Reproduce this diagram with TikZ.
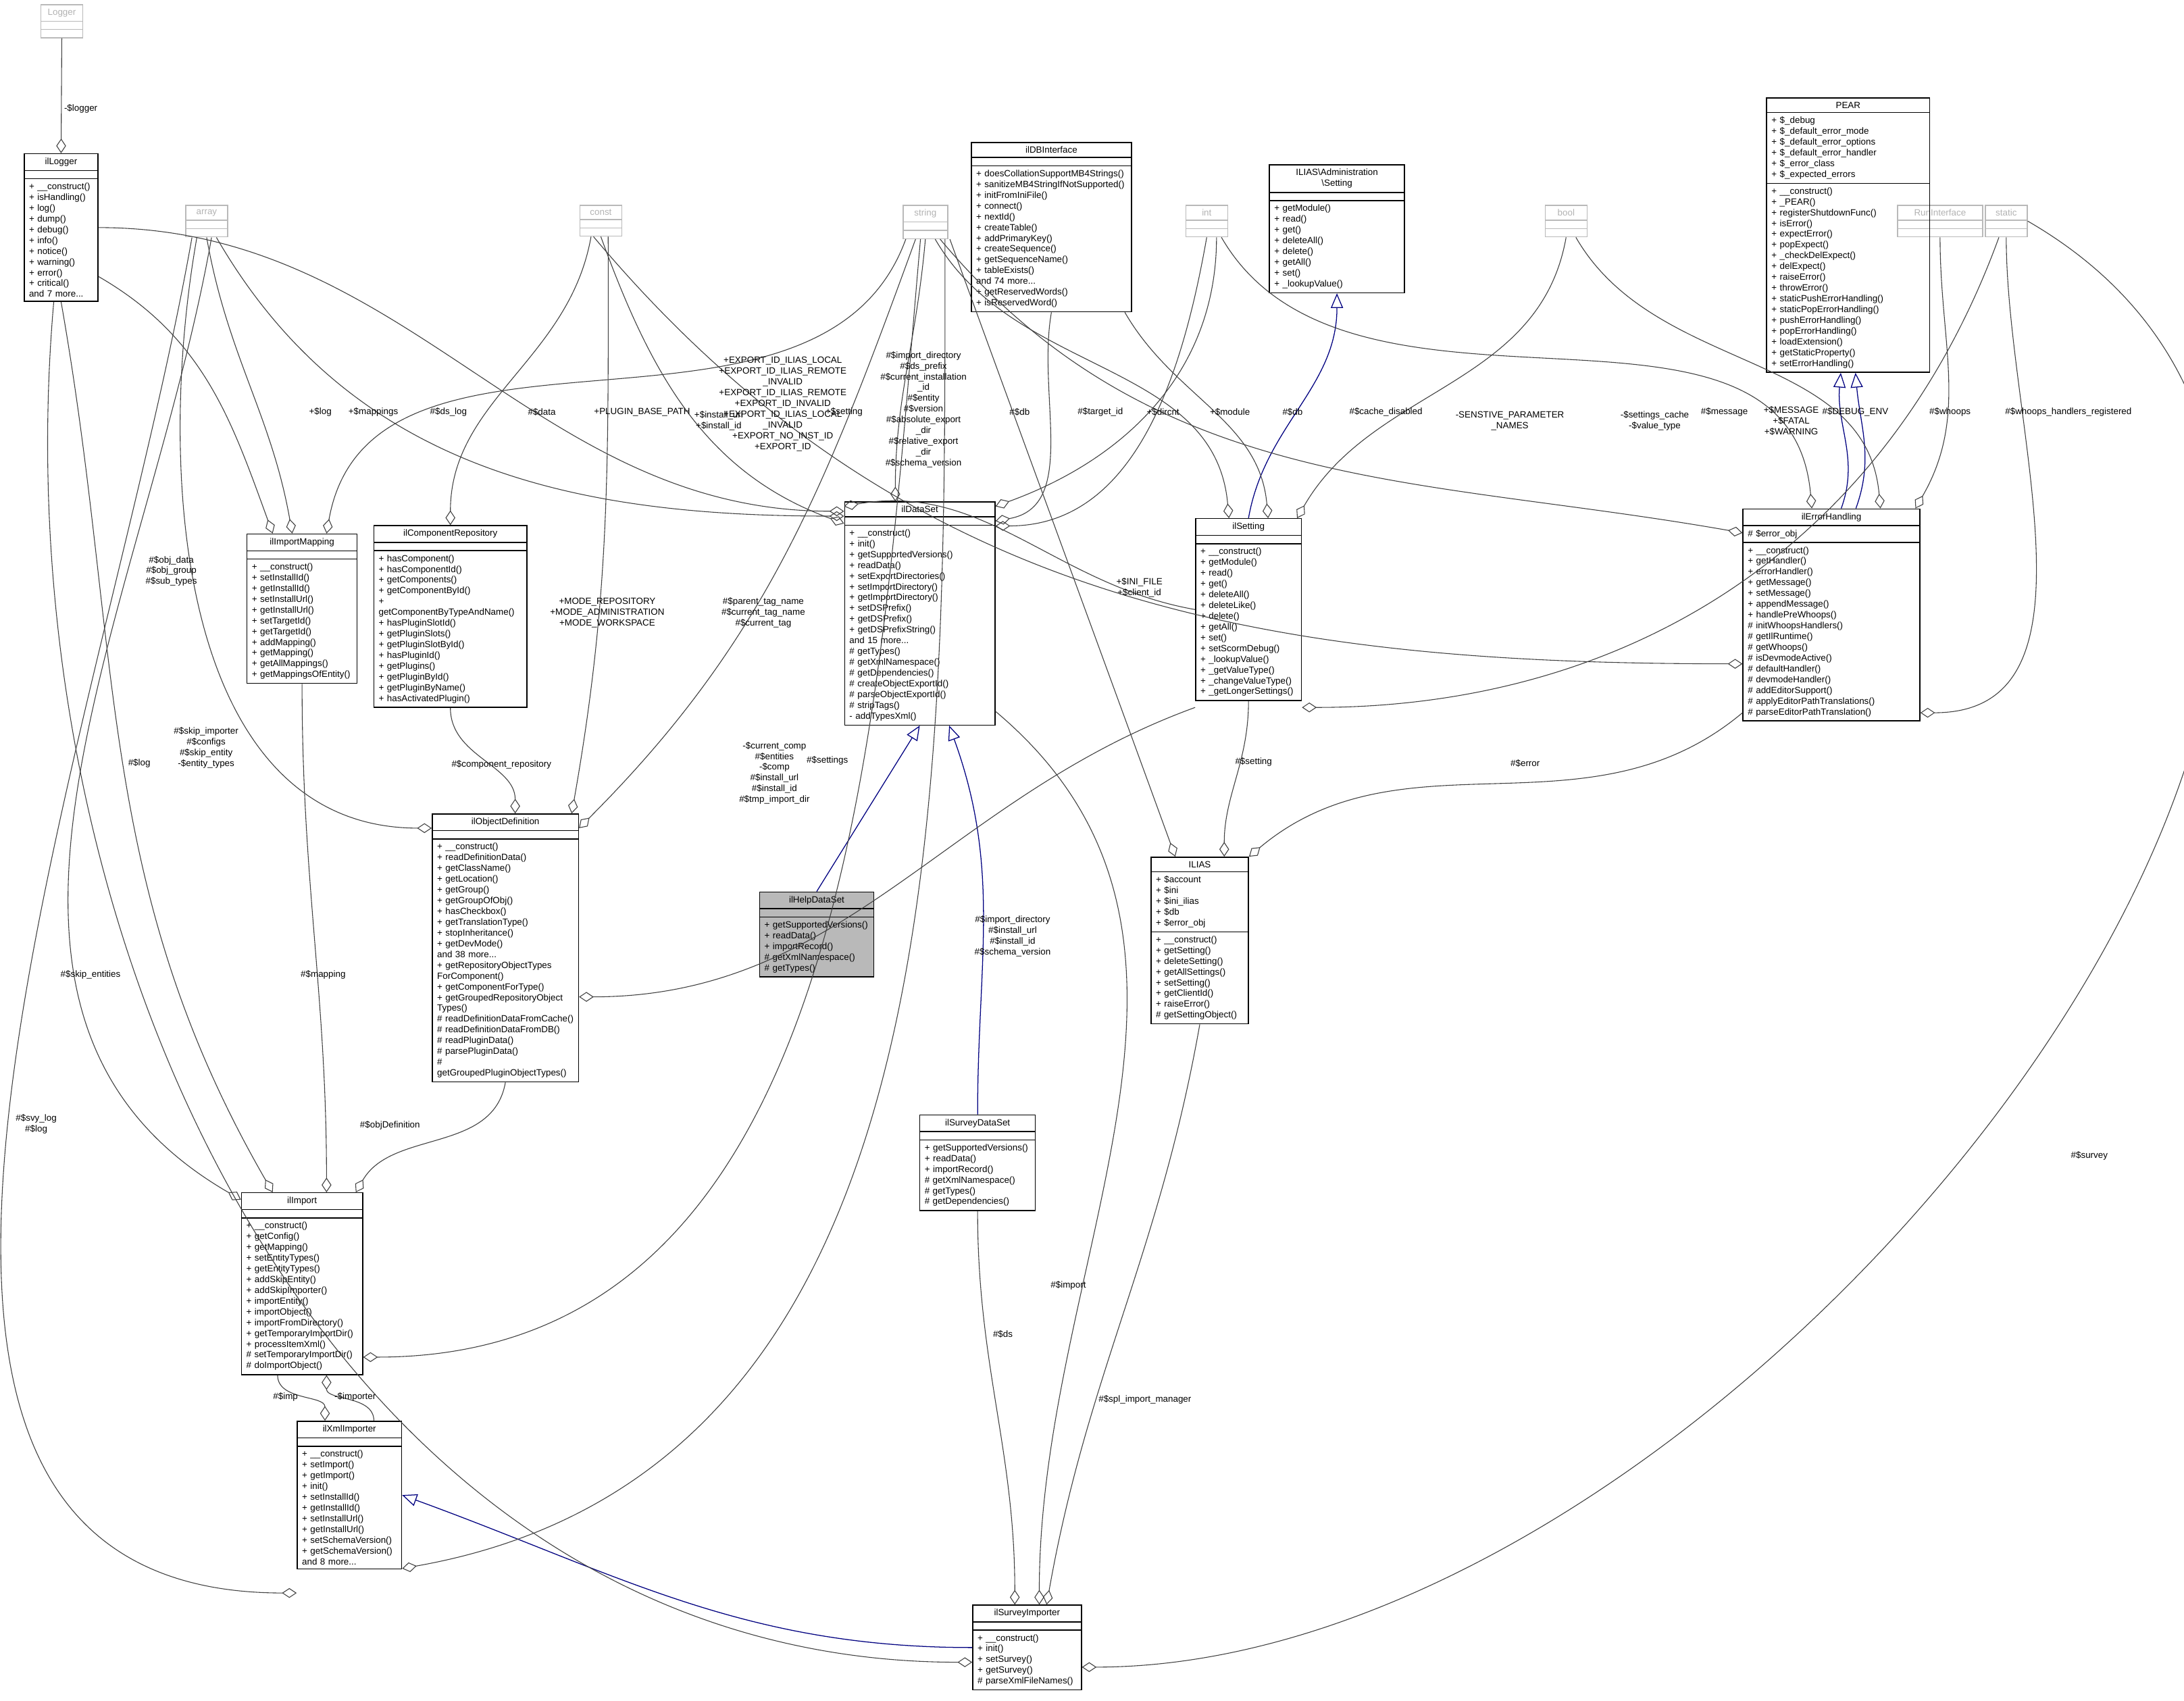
\documentclass[tikz,border=0pt]{standalone}
\usepackage{fontspec}
\setmainfont{Liberation Sans}
\usetikzlibrary{shapes.multipart,arrows.meta}
\hyphenpenalty=10000
\exhyphenpenalty=10000
\tikzset{
  cls/.style={rectangle split,rectangle split parts=3,draw,line width=0.4pt,anchor=north west,
    font=\fontsize{3.7}{4.4}\selectfont,align=left,inner xsep=2pt,inner ysep=1.5pt,
    rectangle split empty part height=5pt},
  prim/.style={cls,draw=gray!55,text=gray!60,align=center},
  agg/.style={draw=black!75,line width=0.3pt,-{Diamond[open,length=6pt,width=4pt]}},
  inh/.style={draw=blue!50!black,line width=0.35pt,-{Triangle[open,length=6pt,width=5pt]}},
  lbl/.style={font=\fontsize{3.7}{4.4}\selectfont,align=center,inner sep=0.5pt}
}
\begin{document}
\hyphenpenalty=10000
\exhyphenpenalty=10000
\begin{tikzpicture}[x=0.02cm,y=-0.02cm]
\useasboundingbox (0,0) rectangle (1568,1221);

%primitive types
\node[prim,text width=0.46cm] (Logger) at (29,3) {Logger\nodepart{two}\nodepart{three}};
\node[prim,text width=0.46cm] (array) at (133,147) {array\nodepart{two}\nodepart{three}};
\node[prim,text width=0.46cm] (const) at (416,147) {const\nodepart{two}\nodepart{three}};
\node[prim,text width=0.5cm] (string) at (648,147) {string\nodepart{two}\nodepart{three}};
\node[prim,text width=0.46cm] (int) at (851,147) {int\nodepart{two}\nodepart{three}};
\node[prim,text width=0.46cm] (bool) at (1109,147) {bool\nodepart{two}\nodepart{three}};
\node[prim,text width=1.08cm] (RunInterface) at (1362,147) {RunInterface\nodepart{two}\nodepart{three}};
\node[prim,text width=0.46cm] (static) at (1425,147) {static\nodepart{two}\nodepart{three}};

%classes
\node[cls,text width=0.92cm] (ilLogger) at (17,110) {{\centering ilLogger\par}\nodepart{two}\nodepart{three}+ \_\_construct()\\+ isHandling()\\+ log()\\+ dump()\\+ debug()\\+ info()\\+ notice()\\+ warning()\\+ error()\\+ critical()\\and 7 more...};
\node[cls,text width=2.16cm] (ilDBInterface) at (697,102) {{\centering ilDBInterface\par}\nodepart{two}\nodepart{three}+ doesCollationSupportMB4Strings()\\+ sanitizeMB4StringIfNotSupported()\\+ initFromIniFile()\\+ connect()\\+ nextId()\\+ createTable()\\+ addPrimaryKey()\\+ createSequence()\\+ getSequenceName()\\+ tableExists()\\and 74 more...\\+ getReservedWords()\\+ isReservedWord()};
\node[cls,text width=1.8cm] (AdminSetting) at (911,118) {{\centering ILIAS\textbackslash Administration\\\textbackslash Setting\par}\nodepart{two}\nodepart{three}+ getModule()\\+ read()\\+ get()\\+ deleteAll()\\+ delete()\\+ getAll()\\+ set()\\+ \_lookupValue()};
\node[cls,text width=2.2cm] (PEAR) at (1268,70) {{\centering PEAR\par}\nodepart{two}+ \$\_debug\\+ \$\_default\_error\_mode\\+ \$\_default\_error\_options\\+ \$\_default\_error\_handler\\+ \$\_error\_class\\+ \$\_expected\_errors\nodepart{three}+ \_\_construct()\\+ \_PEAR()\\+ registerShutdownFunc()\\+ isError()\\+ expectError()\\+ popExpect()\\+ \_checkDelExpect()\\+ delExpect()\\+ raiseError()\\+ throwError()\\+ staticPushErrorHandling()\\+ staticPopErrorHandling()\\+ pushErrorHandling()\\+ popErrorHandling()\\+ loadExtension()\\+ getStaticProperty()\\+ setErrorHandling()};
\node[cls,text width=1.44cm] (ilImportMapping) at (177,383) {{\centering ilImportMapping\par}\nodepart{two}\nodepart{three}+ \_\_construct()\\+ setInstallId()\\+ getInstallId()\\+ setInstallUrl()\\+ getInstallUrl()\\+ setTargetId()\\+ getTargetId()\\+ addMapping()\\+ getMapping()\\+ getAllMappings()\\+ getMappingsOfEntity()};
\node[cls,text width=2.06cm] (ilComponentRepository) at (268,377) {{\centering ilComponentRepository\par}\nodepart{two}\nodepart{three}+ hasComponent()\\+ hasComponentId()\\+ getComponents()\\+ getComponentById()\\+ getComponentByTypeAndName()\\+ hasPluginSlotId()\\+ getPluginSlots()\\+ getPluginSlotById()\\+ hasPluginId()\\+ getPlugins()\\+ getPluginById()\\+ getPluginByName()\\+ hasActivatedPlugin()};
\node[cls,text width=2.02cm] (ilDataSet) at (606,360) {{\centering ilDataSet\par}\nodepart{two}\nodepart{three}+ \_\_construct()\\+ init()\\+ getSupportedVersions()\\+ readData()\\+ setExportDirectories()\\+ setImportDirectory()\\+ getImportDirectory()\\+ setDSPrefix()\\+ getDSPrefix()\\+ getDSPrefixString()\\and 15 more...\\\# getTypes()\\\# getXmlNamespace()\\\# getDependencies()\\\# createObjectExportId()\\\# parseObjectExportId()\\\# stripTags()\\- addTypesXml()};
\node[cls,text width=1.38cm] (ilSetting) at (858,372) {{\centering ilSetting\par}\nodepart{two}\nodepart{three}+ \_\_construct()\\+ getModule()\\+ read()\\+ get()\\+ deleteAll()\\+ deleteLike()\\+ delete()\\+ getAll()\\+ set()\\+ setScormDebug()\\+ \_lookupValue()\\+ \_getValueType()\\+ \_changeValueType()\\+ \_getLongerSettings()};
\node[cls,text width=2.4cm] (ilErrorHandling) at (1251,365) {{\centering ilErrorHandling\par}\nodepart{two}\# \$error\_obj\nodepart{three}+ \_\_construct()\\+ getHandler()\\+ errorHandler()\\+ getMessage()\\+ setMessage()\\+ appendMessage()\\+ handlePreWhoops()\\\# initWhoopsHandlers()\\\# getIlRuntime()\\\# getWhoops()\\\# isDevmodeActive()\\\# defaultHandler()\\\# devmodeHandler()\\\# addEditorSupport()\\\# applyEditorPathTranslations()\\\# parseEditorPathTranslation()};
\node[cls,fill=gray!55,text width=1.5cm] (ilHelpDataSet) at (545,640) {{\centering ilHelpDataSet\par}\nodepart{two}\nodepart{three}+ getSupportedVersions()\\+ readData()\\+ importRecord()\\\# getXmlNamespace()\\\# getTypes()};
\node[cls,text width=1.96cm] (ilObjectDefinition) at (310,584) {{\centering ilObjectDefinition\par}\nodepart{two}\nodepart{three}+ \_\_construct()\\+ readDefinitionData()\\+ getClassName()\\+ getLocation()\\+ getGroup()\\+ getGroupOfObj()\\+ hasCheckbox()\\+ getTranslationType()\\+ stopInheritance()\\+ getDevMode()\\and 38 more...\\+ getRepositoryObjectTypes\\ForComponent()\\+ getComponentForType()\\+ getGroupedRepositoryObject\\Types()\\\# readDefinitionDataFromCache()\\\# readDefinitionDataFromDB()\\\# readPluginData()\\\# parsePluginData()\\\# getGroupedPluginObjectTypes()};
\node[cls,text width=1.26cm] (ILIAS) at (826,615) {{\centering ILIAS\par}\nodepart{two}+ \$account\\+ \$ini\\+ \$ini\_ilias\\+ \$db\\+ \$error\_obj\nodepart{three}+ \_\_construct()\\+ getSetting()\\+ deleteSetting()\\+ getAllSettings()\\+ setSetting()\\+ getClientId()\\+ raiseError()\\\# getSettingObject()};
\node[cls,text width=1.52cm] (ilSurveyDataSet) at (660,800) {{\centering ilSurveyDataSet\par}\nodepart{two}\nodepart{three}+ getSupportedVersions()\\+ readData()\\+ importRecord()\\\# getXmlNamespace()\\\# getTypes()\\\# getDependencies()};
\node[cls,text width=1.6cm] (ilImport) at (173,856) {{\centering ilImport\par}\nodepart{two}\nodepart{three}+ \_\_construct()\\+ getConfig()\\+ getMapping()\\+ setEntityTypes()\\+ getEntityTypes()\\+ addSkipEntity()\\+ addSkipImporter()\\+ importEntity()\\+ importObject()\\+ importFromDirectory()\\+ getTemporaryImportDir()\\+ processItemXml()\\\# setTemporaryImportDir()\\\# doImportObject()};
\node[cls,text width=1.36cm] (ilXmlImporter) at (213,1020) {{\centering ilXmlImporter\par}\nodepart{two}\nodepart{three}+ \_\_construct()\\+ setImport()\\+ getImport()\\+ init()\\+ setInstallId()\\+ getInstallId()\\+ setInstallUrl()\\+ getInstallUrl()\\+ setSchemaVersion()\\+ getSchemaVersion()\\and 8 more...};
\node[cls,text width=1.42cm] (ilSurveyImporter) at (698,1152) {{\centering ilSurveyImporter\par}\nodepart{two}\nodepart{three}+ \_\_construct()\\+ init()\\+ setSurvey()\\+ getSurvey()\\\# parseXmlFileNames()};

%inheritance
\draw[inh] (ilHelpDataSet.north) -- (ilDataSet.south);
\draw[inh] (ilSurveyDataSet.north) to[out=90,in=-70] ([xshift=12pt]ilDataSet.south);
\draw[inh] (ilSetting.north) to[out=80,in=-90] (AdminSetting.south);
\draw[inh] ([xshift=4pt]ilErrorHandling.north) to[out=70,in=-95] ([xshift=-3pt]PEAR.south);
\draw[inh] ([xshift=10pt]ilErrorHandling.north) to[out=70,in=-85] ([xshift=3pt]PEAR.south);
\draw[inh] (ilSurveyImporter.west) to[out=180,in=-20] (ilXmlImporter.east);

%aggregation
\draw[agg] (Logger.south) -- (ilLogger.north);
\draw[agg] ([yshift=-20pt]ilLogger.east) to[out=-30,in=110] ([xshift=-12pt]ilImportMapping.north);
\draw[agg] (array.south) to[out=-80,in=100] ([xshift=-4pt]ilImportMapping.north);
\draw[agg] ([xshift=-8pt]string.south) to[out=-110,in=80] ([xshift=10pt]ilImportMapping.north);
\draw[agg] (ilLogger.east) to[out=0,in=180] ([yshift=-4pt]ilDataSet.north west);
\draw[agg] ([xshift=4pt]array.south) to[out=-60,in=180] ([yshift=-6pt]ilDataSet.north west);
\draw[agg] (const.south) to[out=-70,in=160] ([yshift=-9pt]ilDataSet.north west);
\draw[agg] (string.south) to[out=-95,in=90] ([xshift=-10pt]ilDataSet.north);
\draw[agg] (ilSetting.west) to[out=170,in=10] ([yshift=-2pt]ilDataSet.north west);
\draw[agg] (ilDBInterface.south) to[out=-100,in=10] ([yshift=-8pt]ilDataSet.north east);
\draw[agg] (int.south) to[out=-100,in=0] ([yshift=-10pt]ilDataSet.north east);
\draw[agg] ([xshift=4pt]int.south) to[out=-90,in=20] ([yshift=-2pt]ilDataSet.north east);
\draw[agg] ([xshift=-4pt]const.south) to[out=-100,in=90] (ilComponentRepository.north);
\draw[agg] ([xshift=4pt]string.south) to[out=-60,in=95] ([xshift=-8pt]ilSetting.north);
\draw[agg] ([xshift=30pt]ilDBInterface.south) to[out=-60,in=95] ([xshift=8pt]ilSetting.north);
\draw[agg] (bool.south) to[out=-100,in=60] ([xshift=-2pt]ilSetting.north east);
\draw[agg] ([xshift=-3pt]static.south) to[out=-110,in=0] ([yshift=-40pt]ilSetting.east);
\draw[agg] ([xshift=-3pt]const.south) to[out=-50,in=180] ([yshift=-20pt]ilErrorHandling.west);
\draw[agg] ([xshift=6pt]string.south) to[out=-50,in=170] ([yshift=-10pt]ilErrorHandling.north west);
\draw[agg] ([xshift=6pt]int.south) to[out=-60,in=95] ([xshift=-8pt]ilErrorHandling.north);
\draw[agg] ([xshift=4pt]bool.south) to[out=-60,in=95] ([xshift=20pt]ilErrorHandling.north);
\draw[agg] (RunInterface.south) to[out=-90,in=60] ([xshift=-2pt]ilErrorHandling.north east);
\draw[agg] (static.south) to[out=-90,in=0] ([yshift=-40pt]ilErrorHandling.east);
\draw[agg] ([xshift=-4pt]array.south) to[out=-100,in=180] ([yshift=-6pt]ilObjectDefinition.north west);
\draw[agg] ([xshift=3pt]const.south) to[out=-90,in=80] ([xshift=-3pt]ilObjectDefinition.north east);
\draw[agg] (ilComponentRepository.south) to[out=-90,in=90] ([xshift=4pt]ilObjectDefinition.north);
\draw[agg] ([yshift=-40pt]ilSetting.west) to[out=200,in=0] ([yshift=-20pt]ilObjectDefinition.east);
\draw[agg] ([xshift=-4pt]string.south) to[out=-110,in=45] ([yshift=-6pt]ilObjectDefinition.north east);
\draw[agg] ([xshift=-2pt]string.south) to[out=-95,in=0] ([yshift=-30pt]ilImport.east);
\draw[agg] (ilImportMapping.south) to[out=-90,in=90] ([xshift=10pt]ilImport.north);
\draw[agg] (ilObjectDefinition.south) to[out=-100,in=60] ([xshift=-3pt]ilImport.north east);
\draw[agg] ([xshift=2pt]array.south) to[out=-100,in=150] ([yshift=-3pt]ilImport.north west);
\draw[agg] (ilLogger.south) to[out=-80,in=120] ([xshift=-12pt]ilImport.north);
\draw[agg] ([xshift=-10pt]ilImport.south) to[out=-90,in=90] ([xshift=-10pt]ilXmlImporter.north);
\draw[agg] ([xshift=10pt]ilXmlImporter.north) to[out=90,in=-90] ([xshift=10pt]ilImport.south);
\draw[agg] ([xshift=-6pt]array.south) to[out=-100,in=180] ([yshift=-40pt]ilXmlImporter.west);
\draw[agg] ([xshift=8pt]string.south) to[out=-90,in=10] ([yshift=-30pt]ilXmlImporter.east);
\draw[agg] ([xshift=-3pt]ilLogger.south) to[out=-95,in=180] ([yshift=-6pt]ilSurveyImporter.west);
\draw[agg] (static.east) to[out=-30,in=0] ([yshift=-8pt]ilSurveyImporter.east);
\draw[agg] (ilSurveyDataSet.south) to[out=-90,in=90] ([xshift=-5pt]ilSurveyImporter.north);
\draw[agg] ([yshift=-40pt]ilDataSet.east) to[out=-40,in=90] ([xshift=5pt]ilSurveyImporter.north);
\draw[agg] (ILIAS.south) to[out=-100,in=80] ([xshift=8pt]ilSurveyImporter.north);
\draw[agg] ([yshift=-40pt]ilErrorHandling.west) to[out=220,in=40] (ILIAS.north east);
\draw[agg] (ilSetting.south) to[out=-90,in=90] ([xshift=10pt]ILIAS.north);
\draw[agg] ([xshift=10pt]string.south) to[out=-70,in=110] ([xshift=-10pt]ILIAS.north);

%labels
\node[lbl] (lLogger) at (58,78) {-\$logger};
\node[lbl] (lLog) at (230,296) {+\$log};
\node[lbl] (lMappings) at (268,296) {+\$mappings};
\node[lbl] (lDsLog) at (322,296) {\#\$ds\_log};
\node[lbl] (lData) at (389,296) {\#\$data};
\node[lbl] (lPlugin) at (461,296) {+PLUGIN\_BASE\_PATH};
\node[lbl] (lInstall) at (516,302) {+\$install\_url\\+\$install\_id};
\node[lbl] (lExport) at (562,290) {+EXPORT\_ID\_ILIAS\_LOCAL\\+EXPORT\_ID\_ILIAS\_REMOTE\\\_INVALID\\+EXPORT\_ID\_ILIAS\_REMOTE\\+EXPORT\_ID\_INVALID\\+EXPORT\_ID\_ILIAS\_LOCAL\\\_INVALID\\+EXPORT\_NO\_INST\_ID\\+EXPORT\_ID};
\node[lbl] (lSetting) at (606,296) {+\$setting};
\node[lbl] (lImportDir) at (663,294) {\#\$import\_directory\\\#\$ds\_prefix\\\#\$current\_installation\\\_id\\\#\$entity\\\#\$version\\\#\$absolute\_export\\\_dir\\\#\$relative\_export\\\_dir\\\#\$schema\_version};
\node[lbl] (lDb) at (732,296) {\#\$db};
\node[lbl] (lTarget) at (790,296) {\#\$target\_id};
\node[lbl] (lDircnt) at (835,296) {+\$dircnt};
\node[lbl] (lModule) at (883,296) {+\$module};
\node[lbl] (lDb2) at (928,296) {\#\$db};
\node[lbl] (lCache) at (995,296) {\#\$cache\_disabled};
\node[lbl] (lSensitive) at (1084,302) {-SENSTIVE\_PARAMETER\\\_NAMES};
\node[lbl] (lSettCache) at (1188,302) {-\$settings\_cache\\-\$value\_type};
\node[lbl] (lMessage) at (1238,296) {\#\$message};
\node[lbl] (lFatal) at (1286,302) {+\$MESSAGE\\+\$FATAL\\+\$WARNING};
\node[lbl] (lDebug) at (1332,296) {\#\$DEBUG\_ENV};
\node[lbl] (lWhoops) at (1400,296) {\#\$whoops};
\node[lbl] (lWhoopsReg) at (1485,296) {\#\$whoops\_handlers\_registered};
\node[lbl] (lObjData) at (123,410) {\#\$obj\_data\\\#\$obj\_group\\\#\$sub\_types};
\node[lbl] (lMode) at (436,440) {+MODE\_REPOSITORY\\+MODE\_ADMINISTRATION\\+MODE\_WORKSPACE};
\node[lbl] (lTag) at (548,440) {\#\$parent\_tag\_name\\\#\$current\_tag\_name\\\#\$current\_tag};
\node[lbl] (lIni) at (818,422) {+\$INI\_FILE\\+\$client\_id};
\node[lbl] (lSkip) at (148,537) {\#\$skip\_importer\\\#\$configs\\\#\$skip\_entity\\-\$entity\_types};
\node[lbl] (lLog2) at (100,548) {\#\$log};
\node[lbl] (lComp) at (556,555) {-\$current\_comp\\\#\$entities\\-\$comp\\\#\$install\_url\\\#\$install\_id\\\#\$tmp\_import\_dir};
\node[lbl] (lCompRepo) at (360,549) {\#\$component\_repository};
\node[lbl] (lSettings) at (594,546) {\#\$settings};
\node[lbl] (lSetting2) at (900,547) {\#\$setting};
\node[lbl] (lError) at (1095,548) {\#\$error};
\node[lbl] (lSkipEnt) at (65,700) {\#\$skip\_entities};
\node[lbl] (lMapping) at (232,700) {\#\$mapping};
\node[lbl] (lObjDef) at (280,808) {\#\$objDefinition};
\node[lbl] (lXmlDir) at (727,672) {\#\$import\_directory\\\#\$install\_url\\\#\$install\_id\\\#\$schema\_version};
\node[lbl] (lSvyLog) at (26,807) {\#\$svy\_log\\\#\$log};
\node[lbl] (lImport) at (767,923) {\#\$import};
\node[lbl] (lDs) at (720,958) {\#\$ds};
\node[lbl] (lSpl) at (822,1005) {\#\$spl\_import\_manager};
\node[lbl] (lSurvey) at (1500,830) {\#\$survey};
\node[lbl] (lImp) at (205,1003) {\#\$imp};
\node[lbl] (lImporter) at (255,1003) {-\$importer};
\end{tikzpicture}
\end{document}
